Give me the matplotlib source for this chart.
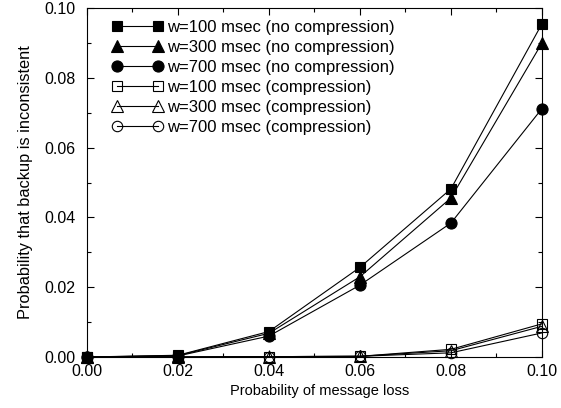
import matplotlib
matplotlib.use("Agg")
import matplotlib.pyplot as plt
from matplotlib.ticker import MultipleLocator

# ============================== data =========================================

loss = [0.00, 0.02, 0.04, 0.06, 0.08, 0.10]

w100_nocomp = [0.0, 0.0005, 0.0073, 0.0257, 0.0482, 0.0955]
w300_nocomp = [0.0, 0.0004, 0.0068, 0.0230, 0.0456, 0.0900]
w700_nocomp = [0.0, 0.0003, 0.0060, 0.0206, 0.0384, 0.0712]
w100_comp = [0.0, 0.0, 0.0001, 0.0002, 0.0022, 0.0095]
w300_comp = [0.0, 0.0, 0.0001, 0.0002, 0.0018, 0.0088]
w700_comp = [0.0, 0.0, 0.0001, 0.0002, 0.0012, 0.0069]

labels = ["w=100 msec (no compression)", "w=300 msec (no compression)",
          "w=700 msec (no compression)", "w=100 msec (compression)",
          "w=300 msec (compression)", "w=700 msec (compression)"]

# ============================== main =========================================

plt.rcParams.update({'font.size': 11, 'font.family': ['Liberation Sans', 'DejaVu Sans']})

fig = plt.figure(figsize=(5.61, 4.08), dpi=100)
ax = fig.add_axes([0.155, 0.125, 0.811, 0.855])

series = [w100_nocomp, w300_nocomp, w700_nocomp, w100_comp, w300_comp, w700_comp]
markers = ['s', '^', 'o', 's', '^', 'o']
sizes = [7, 8, 8, 6.5, 8, 7.5]
for i, (vals, m) in enumerate(zip(series, markers)):
    face = 'black' if i < 3 else 'none'
    ax.plot(loss, vals, '-', color='black', linewidth=0.8, marker=m, markersize=sizes[i],
            markerfacecolor=face, markeredgecolor='black', markeredgewidth=0.8,
            label=labels[i], clip_on=False, zorder=3)

ax.set_xlim(0, 0.10)
ax.set_ylim(0, 0.10)
ax.xaxis.set_major_locator(MultipleLocator(0.02))
ax.xaxis.set_minor_locator(MultipleLocator(0.01))
ax.yaxis.set_major_locator(MultipleLocator(0.02))
ax.yaxis.set_minor_locator(MultipleLocator(0.01))
ax.xaxis.set_major_formatter(plt.FormatStrFormatter('%.2f'))
ax.yaxis.set_major_formatter(plt.FormatStrFormatter('%.2f'))
ax.tick_params(which='both', direction='in', top=True, right=True, width=0.8)
ax.tick_params(which='major', length=5, labelsize=11.5)
ax.tick_params(which='minor', length=3)
ax.tick_params(axis='y', which='major', pad=8)
ax.tick_params(axis='x', which='major', pad=5)
for s in ax.spines.values():
    s.set_linewidth(0.8)

ax.set_xlabel('Probability of message loss', fontsize=10.5)
ax.xaxis.set_label_coords(0.512, -0.076, transform=ax.transAxes)
ax.xaxis.label.set_va('top')
ax.set_ylabel('Probability that backup is inconsistent', fontsize=11.8, labelpad=8)

ax.legend(loc='upper left', bbox_to_anchor=(0.055, 0.967), frameon=False, numpoints=2,
          handlelength=3.05, handletextpad=0.24, labelspacing=0.3, borderaxespad=0,
          borderpad=0, fontsize=12)

plt.savefig('out.png', dpi=100)
